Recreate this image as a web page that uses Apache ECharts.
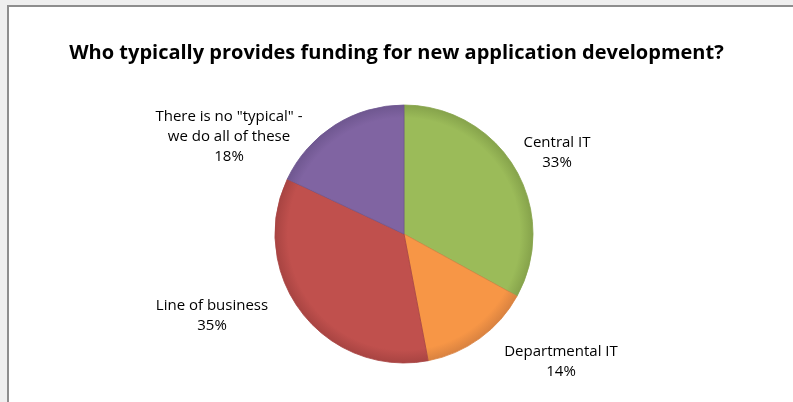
<!DOCTYPE html>
<html>
<head>
<meta charset="utf-8">
<script src="https://cdn.jsdelivr.net/npm/echarts@6/dist/echarts.min.js"></script>
<style>
  html, body { margin: 0; padding: 0; width: 793px; height: 402px; overflow: hidden; background: #efefef; }
  #frame { position: absolute; left: 7px; top: 5px; width: 900px; height: 500px; background: #fff;
           border-left: 2px solid #8e8e8e; border-top: 2px solid #8e8e8e; }
  #chart { position: absolute; left: 0; top: 0; width: 793px; height: 402px; }
</style>
</head>
<body>
<div id="frame"></div>
<div id="chart"></div>
<script>
const titleText = 'Who typically provides funding for new application development?';
const categories = ['Central IT', 'Departmental IT', 'Line of business', 'There is no "typical" -\nwe do all of these'];
const values = [33, 14, 35, 18];
const colors = ['#9BBB59', '#F79646', '#C0504D', '#8064A2'];
const borderColors = ['#86a34b', '#d98240', '#a84442', '#6f5790'];
// label anchor positions (chart pixels) for Excel "best fit" placement
const labelPos = [[557, 153], [561, 362], [212, 316], [229, 137]];

const chart = echarts.init(document.getElementById('chart'), null, { renderer: 'canvas' });
const option = {
  backgroundColor: 'transparent',
  animation: false,
  title: {
    text: titleText,
    left: 'center',
    top: 38,
    textStyle: { fontFamily: 'Open Sans', fontWeight: 'bold', fontSize: 20, color: '#000' }
  },
  series: [{
    type: 'pie',
    center: [404, 234],
    radius: 129,
    startAngle: 90,
    clockwise: true,
    data: categories.map((c, i) => ({
      name: c, value: values[i],
      itemStyle: {
        color: {
          type: 'radial', x: 404, y: 234, r: 129, global: true,
          colorStops: [
            { offset: 0, color: colors[i] },
            { offset: 0.9, color: colors[i] },
            { offset: 1, color: borderColors[i] }
          ]
        },
        borderColor: borderColors[i], borderWidth: 0.8
      }
    })),
    label: {
      show: true,
      position: 'outside',
      formatter: p => p.name + '\n' + p.value + '%',
      fontFamily: 'Open Sans',
      fontSize: 15,
      color: '#000',
      lineHeight: 20,
      align: 'center'
    },
    labelLine: { show: false },
    labelLayout: function (params) {
      const p = labelPos[params.dataIndex];
      return { x: p[0], y: p[1], align: 'center', verticalAlign: 'middle' };
    },
    emphasis: { disabled: true }
  }]
};
chart.setOption(option);
</script>
</body>
</html>
